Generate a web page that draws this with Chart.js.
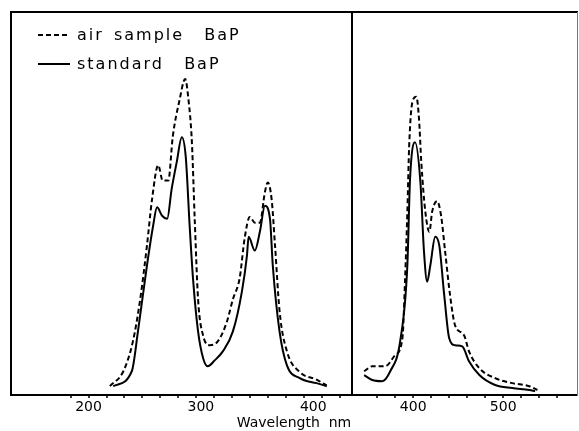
<!DOCTYPE html>
<html>
<head>
<meta charset="utf-8">
<title>BaP excitation / emission spectra</title>
<script src="https://cdn.jsdelivr.net/npm/chart.js@4.4.1/dist/chart.umd.min.js"></script>
<style>
  body { margin: 0; background: #fff; }
  canvas { display: block; }
</style>
</head>
<body>
<canvas id="spectraChart" width="579" height="431"></canvas>
<script>
// left panel (excitation), wavelength nm / relative intensity
const exAirNm = [219, 231, 239.5, 246, 252, 256.5, 262, 266, 271, 275, 281, 286, 289, 292, 294.5, 297.5, 302, 308, 315, 323, 328.5, 334.5, 339, 343.5, 348, 352.5, 357, 359.5, 363, 366, 370, 376.5, 388, 403, 412];
const exAirVal = [2.3, 6.2, 14, 25, 39, 51, 60, 56, 56, 67.5, 77, 82.5, 77, 66, 46, 25, 15.5, 13, 14, 19, 25, 30.5, 41, 46.5, 45, 45, 53, 55.5, 51, 39, 22, 11.5, 6, 4, 2.5];
const exStdNm = [222, 238.5, 244, 252, 257.5, 261, 265.5, 270, 274, 278.5, 283, 286.5, 290, 293, 297.5, 302, 306, 312.5, 319.5, 328.5, 336.5, 341, 342.5, 348, 352.5, 357, 361.5, 364, 370, 376.5, 388, 403, 412];
const exStdVal = [2.3, 6.2, 16.6, 33.8, 44.2, 49, 46.8, 46, 53.8, 60.8, 67.3, 62.3, 44.2, 30.4, 16.6, 9.6, 7.5, 9.1, 11.4, 16.6, 27, 36.4, 41.3, 37.7, 42.6, 49.4, 46, 33.8, 16.6, 7.8, 4.4, 3.1, 2.3];

// right panel (emission)
const emAirNm = [345.5, 354.5, 369, 380, 388, 391, 393.5, 395.5, 399, 403.5, 406.5, 409, 413.5, 418, 421, 426.5, 431, 435.5, 441, 446.5, 456.5, 462, 473.5, 491, 510, 529, 538];
const emAirVal = [6.2, 7.5, 7.5, 10.4, 14.8, 30.4, 47.8, 64.9, 76.4, 77.9, 71.9, 60.8, 47.8, 42.6, 47.8, 50.6, 46.8, 37.4, 26, 18.2, 15.6, 11.4, 7, 4.4, 3.1, 2.3, 1.3];
const emStdNm = [345.5, 354.5, 365.5, 374.5, 385.5, 393.5, 396.5, 402, 408, 412, 415.5, 419, 424.5, 429, 434.5, 440, 446.5, 454.5, 462, 473.5, 491, 510, 529, 535.5];
const emStdVal = [5.2, 3.9, 3.6, 6.2, 14, 33.8, 56.4, 66, 55.6, 37.4, 29.6, 33.8, 41.3, 39, 26, 14.8, 13, 12.7, 8.8, 5.2, 2.6, 1.8, 1.3, 1];

const leftTickLabels = [200, 300, 400];
const rightTickLabels = [400, 500];
const seriesNames = ['air sample  BaP', 'standard  BaP'];
const axisTitle = 'Wavelength  nm';

const leftMin = 131, leftMax = 434.5;
const rightMin = 332, rightMax = 582;

const pts = (xs, ys) => xs.map((x, i) => ({ x: x, y: ys[i] }));

// minor tick marks: 16 nm apart on the left, 20 nm on the right
const leftMinor = [];
for (let v = 184; v <= 424; v += 16) leftMinor.push(v);
const rightMinor = [];
for (let v = 360; v <= 560; v += 20) rightMinor.push(v);

Chart.defaults.font.family = '"DejaVu Sans", sans-serif';
Chart.defaults.color = '#000';

const lineStyle = (dashed) => ({
  borderColor: '#000',
  borderWidth: 2,
  borderDash: dashed ? [5, 3] : [],
  pointRadius: 0,
  fill: false,
  cubicInterpolationMode: 'monotone',
  yAxisID: 'y'
});

// hand drawn style legend inside the frame
const sketchLegend = {
  id: 'sketchLegend',
  afterDraw(chart) {
    const ctx = chart.ctx;
    ctx.save();
    ctx.font = '16px "DejaVu Sans", sans-serif';
    ctx.letterSpacing = '2px';
    ctx.wordSpacing = '3px';
    ctx.fillStyle = '#000';
    seriesNames.forEach((name, i) => {
      const ds = chart.data.datasets[i];
      const y = 35 + i * 29;
      ctx.beginPath();
      ctx.setLineDash(ds.borderDash);
      ctx.lineWidth = ds.borderWidth;
      ctx.strokeStyle = ds.borderColor;
      ctx.moveTo(38, y);
      ctx.lineTo(70, y);
      ctx.stroke();
      ctx.setLineDash([]);
      ctx.fillText(name, 77, y + 5);
    });
    ctx.restore();
  }
};

const bottomAxis = (min, max, minor, labels, weight, divider) => ({
  type: 'linear',
  position: 'bottom',
  stack: 'wl',
  stackWeight: weight,
  min: min,
  max: max,
  afterBuildTicks: (scale) => {
    const vals = new Set(minor.concat(labels));
    if (divider) vals.add(min);
    scale.ticks = [...vals].sort((a, b) => a - b).map(v => ({ value: v }));
  },
  ticks: {
    autoSkip: false,
    maxRotation: 0,
    minRotation: 0,
    padding: 2,
    font: { size: 14, lineHeight: 1 },
    callback: (v) => labels.includes(v) ? String(v) : ''
  },
  grid: {
    drawOnChartArea: divider,
    color: (c) => divider && c.tick && c.tick.value === min ? '#000' : 'rgba(0,0,0,0)',
    lineWidth: 2,
    tickLength: 3,
    tickWidth: 1.5,
    tickColor: (c) => c.tick && minor.includes(c.tick.value) ? '#000' : 'rgba(0,0,0,0)'
  },
  border: { color: '#000', width: 2 }
});

const ctx = document.getElementById('spectraChart').getContext('2d');
const spectraChart = new Chart(ctx, {
  type: 'line',
  data: {
    datasets: [
      Object.assign({ label: seriesNames[0], data: pts(exAirNm, exAirVal), xAxisID: 'xa' }, lineStyle(true)),
      Object.assign({ label: seriesNames[1], data: pts(exStdNm, exStdVal), xAxisID: 'xa' }, lineStyle(false)),
      Object.assign({ label: seriesNames[0], data: pts(emAirNm, emAirVal), xAxisID: 'xb' }, lineStyle(true)),
      Object.assign({ label: seriesNames[1], data: pts(emStdNm, emStdVal), xAxisID: 'xb' }, lineStyle(false))
    ]
  },
  options: {
    responsive: false,
    animation: false,
    layout: { padding: { left: 11, right: 2, top: 12, bottom: 1 } },
    scales: {
      xa: bottomAxis(leftMin, leftMax, leftMinor, leftTickLabels, 341, false),
      xb: bottomAxis(rightMin, rightMax, rightMinor, rightTickLabels, 225, true),
      xt: {
        type: 'linear', position: 'top', min: 0, max: 1,
        ticks: { display: false },
        grid: { display: false, drawTicks: false },
        border: { color: '#000', width: 2 }
      },
      y: {
        type: 'linear', position: 'left', min: 0, max: 100,
        ticks: { display: false },
        grid: { display: false, drawTicks: false },
        border: { color: '#000', width: 2 }
      },
      yr: {
        type: 'linear', position: 'right', min: 0, max: 100,
        ticks: { display: false },
        grid: { display: false, drawTicks: false },
        border: { color: '#777', width: 1 }
      }
    },
    plugins: {
      legend: { display: false },
      tooltip: { enabled: false },
      title: {
        display: true,
        position: 'bottom',
        text: axisTitle,
        font: { size: 14, weight: 'normal', lineHeight: 1 },
        padding: 0
      }
    }
  },
  plugins: [sketchLegend]
});
</script>
</body>
</html>
